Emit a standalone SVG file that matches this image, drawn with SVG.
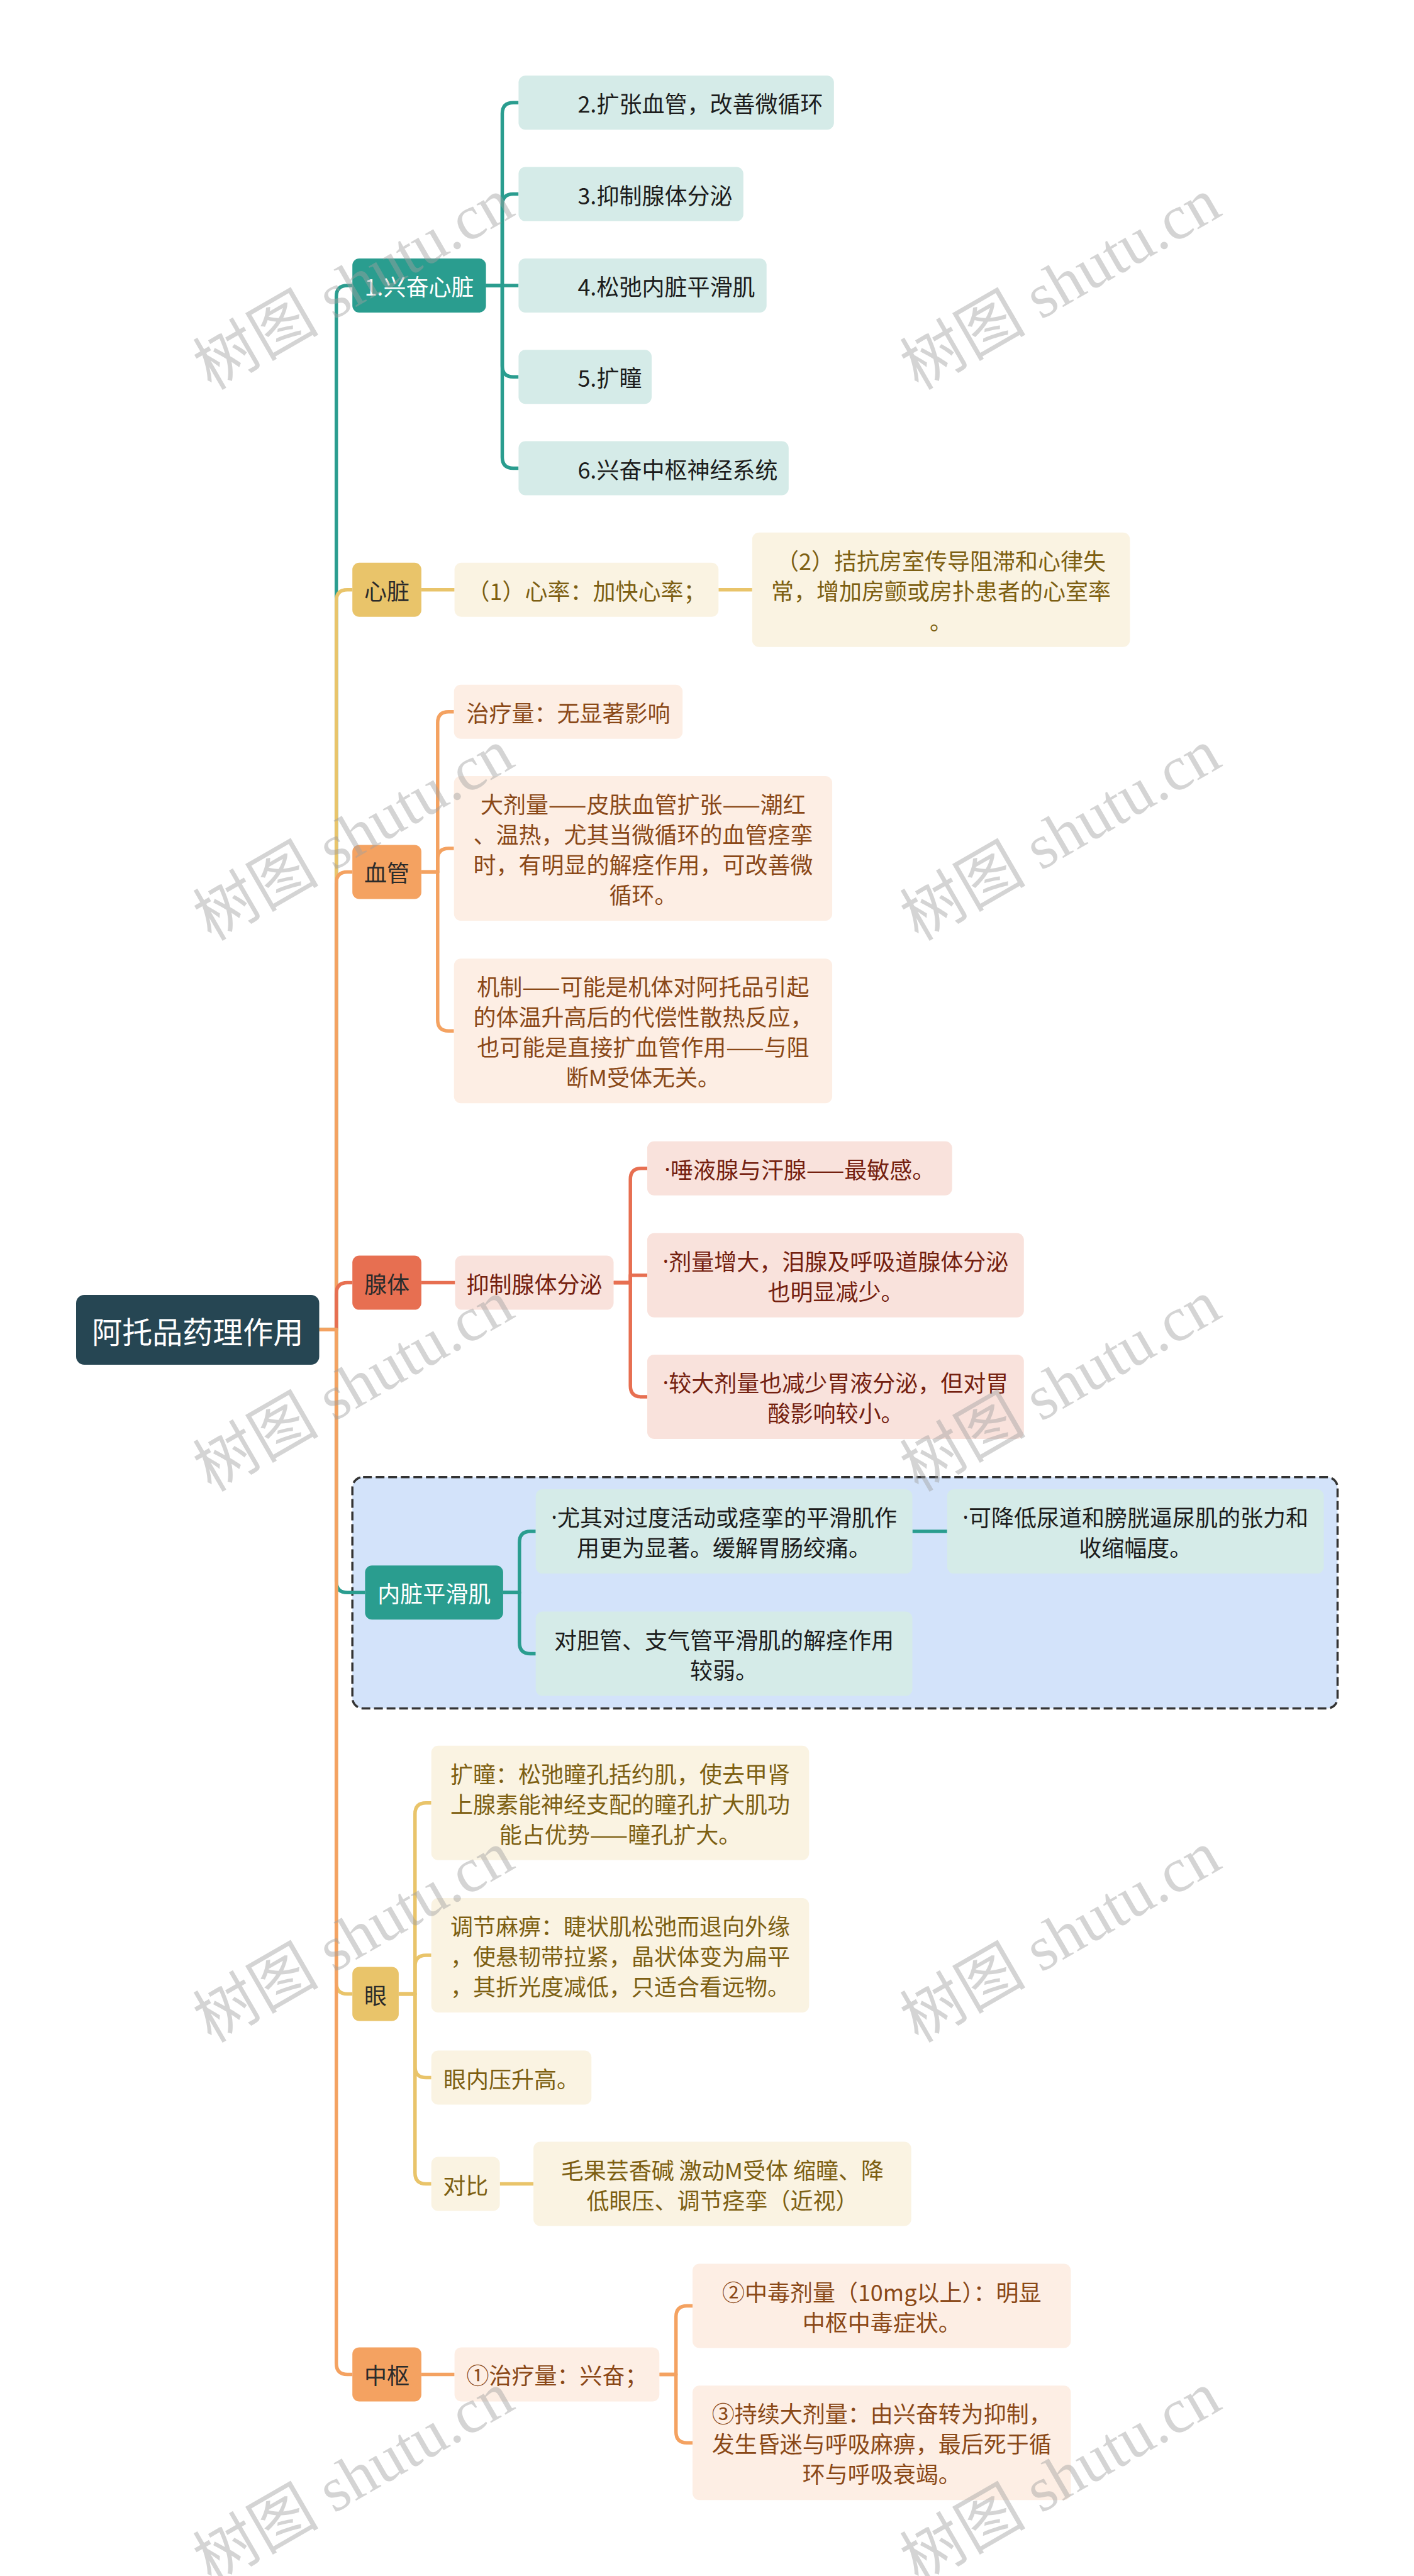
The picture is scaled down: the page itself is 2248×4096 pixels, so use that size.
<svg xmlns="http://www.w3.org/2000/svg" width="2248" height="4096" viewBox="0 0 2248 4096">
<style>
.t{font-family:"Noto Sans CJK SC","Noto Sans",sans-serif;font-size:36px;dominant-baseline:central}
.d{font-family:"Noto Sans","Liberation Sans",sans-serif}
.m{text-anchor:middle}
.w{fill:#ffffff}
.k{fill:#2b2b2b}
.tk{fill:#1c1c1c}
.ty{fill:#7d5f12}
.to{fill:#8a4817}
.tr{fill:#74200f}
.con{fill:none;stroke-width:5.5;stroke-linejoin:round}
.teal{stroke:#2a9d8f}
.yel{stroke:#e9c46a}
.ora{stroke:#f4a261}
.red{stroke:#e76f51}
.ft{fill:#2a9d8f}
.fy{fill:#e9c46a}
.fo{fill:#f4a261}
.fr{fill:#e76f51}
.lt{fill:#d5ebe8}
.ly{fill:#faf3e2}
.lo{fill:#fdeee4}
.lr{fill:#f9e2dc}
.wm{font-family:"Liberation Serif","Noto Sans CJK SC",serif;font-size:100px;fill:#a0a0a0;fill-opacity:0.45;text-anchor:middle;dominant-baseline:central}
</style>
<rect width="2248" height="4096" fill="#ffffff"/>
<g id="boundary">
<rect x="560.2" y="2348.7" width="1566.3" height="367.8" rx="17" fill="#d3e3fa" stroke="#333333" stroke-width="3.5" stroke-dasharray="14 6"/>
</g>
<g id="connectors">
<path class="con teal" d="M507.5 2114.3 H534.7 V471.5 Q534.7 454 552.2 454 H560.2"/>
<path class="con yel" d="M507.5 2114.3 H534.7 V955.2 Q534.7 937.7 552.2 937.7 H560.2"/>
<path class="con ora" d="M507.5 2114.3 H534.7 V1403.9 Q534.7 1386.4 552.2 1386.4 H560.2"/>
<path class="con red" d="M507.5 2114.3 H534.7 V2057.1 Q534.7 2039.6 552.2 2039.6 H560.2"/>
<path class="con teal" d="M507.5 2114.3 H534.7 V2514.7 Q534.7 2532.2 552.2 2532.2 H580.4"/>
<path class="con yel" d="M507.5 2114.3 H534.7 V3153 Q534.7 3170.5 552.2 3170.5 H560.2"/>
<path class="con ora" d="M507.5 2114.3 H534.7 V3757.9 Q534.7 3775.4 552.2 3775.4 H560.2"/>
<path class="con teal" d="M772.6 454 H798.5 V180.8 Q798.5 163.3 816 163.3 H824.4"/>
<path class="con teal" d="M772.6 454 H798.5 V326.1 Q798.5 308.6 816 308.6 H824.4"/>
<path class="con teal" d="M772.6 454 H824.4"/>
<path class="con teal" d="M772.6 454 H798.5 V581.7 Q798.5 599.2 816 599.2 H824.4"/>
<path class="con teal" d="M772.6 454 H798.5 V727 Q798.5 744.5 816 744.5 H824.4"/>
<path class="con yel" d="M669.9 937.7 H722.6"/>
<path class="con yel" d="M1142.3 937.7 H1195.8"/>
<path class="con ora" d="M669.9 1386.4 H695.8 V1149.2 Q695.8 1131.7 713.3 1131.7 H721.7"/>
<path class="con ora" d="M669.9 1386.4 H695.8 V1366.5 Q695.8 1349 713.3 1349 H721.7"/>
<path class="con ora" d="M669.9 1386.4 H695.8 V1621.7 Q695.8 1639.2 713.3 1639.2 H721.7"/>
<path class="con red" d="M669.9 2039.6 H723.5"/>
<path class="con red" d="M975.5 2039.6 H1002.2 V1875.3 Q1002.2 1857.8 1019.7 1857.8 H1029"/>
<path class="con red" d="M975.5 2039.6 H1002.2 V2027.7 H1029"/>
<path class="con red" d="M975.5 2039.6 H1002.2 V2203.4 Q1002.2 2220.9 1019.7 2220.9 H1029"/>
<path class="con teal" d="M799.9 2532.2 H825.8 V2452.6 Q825.8 2435.1 843.3 2435.1 H851.7"/>
<path class="con teal" d="M799.9 2532.2 H825.8 V2612.1 Q825.8 2629.6 843.3 2629.6 H851.7"/>
<path class="con teal" d="M1450.5 2435.1 H1505.8"/>
<path class="con yel" d="M633.9 3170.5 H659.8 V2884.2 Q659.8 2866.7 677.3 2866.7 H685.7"/>
<path class="con yel" d="M633.9 3170.5 H659.8 V3126.5 Q659.8 3109 677.3 3109 H685.7"/>
<path class="con yel" d="M633.9 3170.5 H659.8 V3286 Q659.8 3303.5 677.3 3303.5 H685.7"/>
<path class="con yel" d="M633.9 3170.5 H659.8 V3455 Q659.8 3472.5 677.3 3472.5 H685.7"/>
<path class="con yel" d="M794.6 3472.5 H848.1"/>
<path class="con ora" d="M669.9 3775.4 H722.6"/>
<path class="con ora" d="M1048.3 3775.4 H1074.7 V3684 Q1074.7 3666.5 1092.2 3666.5 H1101"/>
<path class="con ora" d="M1048.3 3775.4 H1074.7 V3866.8 Q1074.7 3884.3 1092.2 3884.3 H1101"/>
</g>
<g id="root">
<rect x="121" y="2059" width="386.5" height="111" rx="13" fill="#264653"/>
<text class="t m w" x="314.2" y="2114.5" style="font-size:48px">阿托品药理作用</text>
</g>
<g id="n1">
<rect class="ft" x="560.2" y="411" width="212.4" height="86" rx="11"/>
<text class="t m w" x="666.4" y="454">1.兴奋心脏</text>
</g>
<g id="c2"><rect class="lt" x="824.4" y="120.3" width="501.4" height="86" rx="11"/><text class="t tk" x="918.4" y="163.3">2.扩张血管，改善微循环</text></g>
<g id="c3"><rect class="lt" x="824.4" y="265.6" width="357.4" height="86" rx="11"/><text class="t tk" x="918.4" y="308.6">3.抑制腺体分泌</text></g>
<g id="c4"><rect class="lt" x="824.4" y="410.9" width="394.3" height="86" rx="11"/><text class="t tk" x="918.4" y="453.9">4.松弛内脏平滑肌</text></g>
<g id="c5"><rect class="lt" x="824.4" y="556.2" width="211.6" height="86" rx="11"/><text class="t tk" x="918.4" y="599.2">5.扩瞳</text></g>
<g id="c6"><rect class="lt" x="824.4" y="701.5" width="429.4" height="86" rx="11"/><text class="t tk" x="918.4" y="744.5">6.兴奋中枢神经系统</text></g>
<g id="n2">
<rect class="fy" x="560.2" y="894.7" width="109.7" height="86" rx="11"/>
<text class="t m k" x="615" y="937.7">心脏</text>
</g>
<g id="d1"><rect class="ly" x="722.6" y="894.7" width="419.7" height="86" rx="11"/><text class="t m ty" x="932.4" y="937.7">（1）心率：加快心率；</text></g>
<g id="d2"><rect class="ly" x="1195.8" y="846.7" width="600.6" height="182" rx="11"/>
<text class="t m ty" x="1496" y="889.7">（2）拮抗房室传导阻滞和心律失</text>
<text class="t m ty" x="1496" y="937.7">常，增加房颤或房扑患者的心室率</text>
<text class="t m ty" x="1496" y="985.7">。</text></g>
<g id="n3">
<rect class="fo" x="560.2" y="1343.4" width="109.7" height="86" rx="11"/>
<text class="t m k" x="615" y="1386.4">血管</text>
</g>
<g id="e1"><rect class="lo" x="721.7" y="1088.7" width="363.5" height="86" rx="11"/><text class="t m to" x="903.4" y="1131.7">治疗量：无显著影响</text></g>
<g id="e2"><rect class="lo" x="721.7" y="1234" width="601.4" height="230" rx="11"/>
<text class="t m to" x="1022.4" y="1277">大剂量——皮肤血管扩张——潮红</text>
<text class="t m to" x="1022.4" y="1325">、温热，尤其当微循环的血管痉挛</text>
<text class="t m to" x="1022.4" y="1373">时，有明显的解痉作用，可改善微</text>
<text class="t m to" x="1022.4" y="1421">循环。</text></g>
<g id="e3"><rect class="lo" x="721.7" y="1524.2" width="601.4" height="230" rx="11"/>
<text class="t m to" x="1022.4" y="1567.2">机制——可能是机体对阿托品引起</text>
<text class="t m to" x="1022.4" y="1615.2">的体温升高后的代偿性散热反应，</text>
<text class="t m to" x="1022.4" y="1663.2">也可能是直接扩血管作用——与阻</text>
<text class="t m to" x="1022.4" y="1711.2">断M受体无关。</text></g>
<g id="n4">
<rect class="fr" x="560.2" y="1996.6" width="109.7" height="86" rx="11"/>
<text class="t m k" x="615" y="2039.6">腺体</text>
</g>
<g id="f0"><rect class="lr" x="723.5" y="1996.6" width="252" height="86" rx="11"/><text class="t m tr" x="849.5" y="2039.6">抑制腺体分泌</text></g>
<g id="f1"><rect class="lr" x="1029" y="1814.8" width="484.7" height="86" rx="11"/><text class="t m tr" x="1271.3" y="1857.8"><tspan class="d">·</tspan>唾液腺与汗腺——最敏感。</text></g>
<g id="f2"><rect class="lr" x="1029" y="1960.7" width="598.8" height="134" rx="11"/>
<text class="t m tr" x="1328.4" y="2003.7"><tspan class="d">·</tspan>剂量增大，泪腺及呼吸道腺体分泌</text>
<text class="t m tr" x="1328.4" y="2051.7">也明显减少。</text></g>
<g id="f3"><rect class="lr" x="1029" y="2153.9" width="598.8" height="134" rx="11"/>
<text class="t m tr" x="1328.4" y="2196.9"><tspan class="d">·</tspan>较大剂量也减少胃液分泌，但对胃</text>
<text class="t m tr" x="1328.4" y="2244.9">酸影响较小。</text></g>
<g id="n5">
<rect class="ft" x="580.4" y="2489.2" width="219.5" height="86" rx="11"/>
<text class="t m w" x="690.2" y="2532.2">内脏平滑肌</text>
</g>
<g id="g1"><rect class="lt" x="851.7" y="2368.1" width="598.8" height="134" rx="11"/>
<text class="t m tk" x="1151.1" y="2411.1"><tspan class="d">·</tspan>尤其对过度活动或痉挛的平滑肌作</text>
<text class="t m tk" x="1151.1" y="2459.1">用更为显著。缓解胃肠绞痛。</text></g>
<g id="g1b"><rect class="lt" x="1505.8" y="2368.1" width="598.8" height="134" rx="11"/>
<text class="t m tk" x="1805.2" y="2411.1"><tspan class="d">·</tspan>可降低尿道和膀胱逼尿肌的张力和</text>
<text class="t m tk" x="1805.2" y="2459.1">收缩幅度。</text></g>
<g id="g2"><rect class="lt" x="851.7" y="2562.6" width="598.8" height="134" rx="11"/>
<text class="t m tk" x="1151.1" y="2605.6">对胆管、支气管平滑肌的解痉作用</text>
<text class="t m tk" x="1151.1" y="2653.6">较弱。</text></g>
<g id="n6">
<rect class="fy" x="560.2" y="3127.5" width="73.7" height="86" rx="11"/>
<text class="t m k" x="597" y="3170.5">眼</text>
</g>
<g id="h1"><rect class="ly" x="685.7" y="2775.7" width="600.6" height="182" rx="11"/>
<text class="t m ty" x="986" y="2818.7">扩瞳：松弛瞳孔括约肌，使去甲肾</text>
<text class="t m ty" x="986" y="2866.7">上腺素能神经支配的瞳孔扩大肌功</text>
<text class="t m ty" x="986" y="2914.7">能占优势——瞳孔扩大。</text></g>
<g id="h2"><rect class="ly" x="685.7" y="3018" width="600.6" height="182" rx="11"/>
<text class="t m ty" x="986" y="3061">调节麻痹：睫状肌松弛而退向外缘</text>
<text class="t m ty" x="986" y="3109">，使悬韧带拉紧，晶状体变为扁平</text>
<text class="t m ty" x="986" y="3157">，其折光度减低，只适合看远物。</text></g>
<g id="h3"><rect class="ly" x="685.7" y="3260.5" width="254.6" height="86" rx="11"/><text class="t m ty" x="813" y="3303.5">眼内压升高。</text></g>
<g id="h4"><rect class="ly" x="685.7" y="3429.5" width="108.9" height="86" rx="11"/><text class="t m ty" x="740.2" y="3472.5">对比</text></g>
<g id="h5"><rect class="ly" x="848.1" y="3405.5" width="600.6" height="134" rx="11"/>
<text class="t m ty" x="1148.4" y="3448.5">毛果芸香碱 激动M受体 缩瞳、降</text>
<text class="t m ty" x="1148.4" y="3496.5">低眼压、调节痉挛（近视）</text></g>
<g id="n7">
<rect class="fo" x="560.2" y="3732.4" width="109.7" height="86" rx="11"/>
<text class="t m k" x="615" y="3775.4">中枢</text>
</g>
<g id="i1"><rect class="lo" x="722.6" y="3732.4" width="325.7" height="86" rx="11"/><text class="t m to" x="885.5" y="3775.4">①治疗量：兴奋；</text></g>
<g id="i2"><rect class="lo" x="1101" y="3599.5" width="601.4" height="134" rx="11"/>
<text class="t m to" x="1401.7" y="3642.5">②中毒剂量（10mg以上）：明显</text>
<text class="t m to" x="1401.7" y="3690.5">中枢中毒症状。</text></g>
<g id="i3"><rect class="lo" x="1101" y="3793.3" width="601.4" height="182" rx="11"/>
<text class="t m to" x="1401.7" y="3836.3">③持续大剂量：由兴奋转为抑制，</text>
<text class="t m to" x="1401.7" y="3884.3">发生昏迷与呼吸麻痹，最后死于循</text>
<text class="t m to" x="1401.7" y="3932.3">环与呼吸衰竭。</text></g>
<g id="watermarks">
<text class="wm" transform="translate(562 452) rotate(-30)">树图 shutu.cn</text>
<text class="wm" transform="translate(1686 452) rotate(-30)">树图 shutu.cn</text>
<text class="wm" transform="translate(562 1328) rotate(-30)">树图 shutu.cn</text>
<text class="wm" transform="translate(1686 1328) rotate(-30)">树图 shutu.cn</text>
<text class="wm" transform="translate(562 2204) rotate(-30)">树图 shutu.cn</text>
<text class="wm" transform="translate(1686 2204) rotate(-30)">树图 shutu.cn</text>
<text class="wm" transform="translate(562 3080) rotate(-30)">树图 shutu.cn</text>
<text class="wm" transform="translate(1686 3080) rotate(-30)">树图 shutu.cn</text>
<text class="wm" transform="translate(562 3940) rotate(-30)">树图 shutu.cn</text>
<text class="wm" transform="translate(1686 3940) rotate(-30)">树图 shutu.cn</text>
</g>
</svg>
